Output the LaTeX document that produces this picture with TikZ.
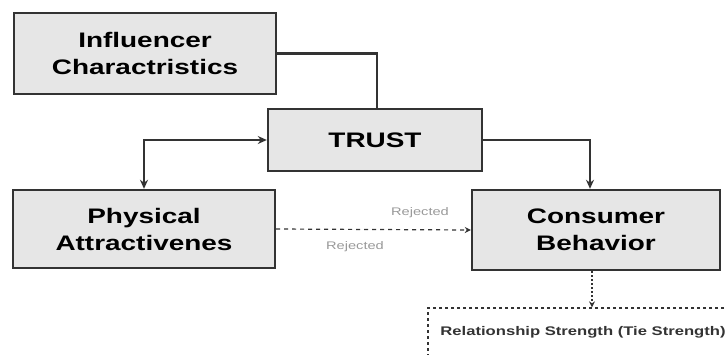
\documentclass[tikz,border=0pt]{standalone}
\usepackage{fontspec}
\setmainfont{Liberation Sans}[FakeStretch=1.33]
\usepackage{tikz}
\usetikzlibrary{arrows.meta}
\definecolor{boxgray}{HTML}{E6E6E6}
\definecolor{linegray}{HTML}{333333}
\tikzset{
    factor/.style={draw=linegray, fill=boxgray, line width=2.4pt, inner sep=0pt, align=center, font=\fontsize{21}{27}\selectfont\bfseries}, % 方框的样式
    link/.style={draw=linegray, line width=2.2pt, -{Stealth[length=9pt, width=8pt]}}, % 实线箭头
    rejected/.style={text=gray!80, font=\fontsize{11}{13}\selectfont} % 灰色小字
}

\begin{document}
\begin{tikzpicture}[x=1pt, y=-1pt]
            \useasboundingbox (0,0) rectangle (726,354);
            \clip (0,0) rectangle (726,354);

            \node[factor, minimum width=262pt, minimum height=81pt] (infl) at (145,53.5) {Influencer\\Charactristics};
            \node[factor, minimum width=214pt, minimum height=62pt] (trust) at (375,140) {TRUST};
            \node[factor, minimum width=262pt, minimum height=78pt] (phys) at (144,229) {Physical\\Attractivenes};
            \node[factor, minimum width=248pt, minimum height=80pt] (cons) at (596,230) {Consumer\\Behavior};
            \node[draw=linegray, line width=1.3pt, dash pattern=on 3pt off 3pt, minimum width=310pt, minimum height=48pt, inner sep=0pt, font=\fontsize{12.5}{15}\selectfont\bfseries, text=linegray] (tie) at (583,332) {Relationship Strength (Tie Strength)};

            \draw[link, -] (infl.east) -| ([xshift=2pt]trust.north);
            \draw[link, {Stealth[length=9pt, width=8pt]}-{Stealth[length=9pt, width=8pt]}] (trust.west) -| (phys.north);
            \draw[link] (trust.east) -| ([xshift=-6pt]cons.north);

            \draw[linegray, line width=1.2pt, dash pattern=on 4pt off 4pt, -{Stealth[length=6pt, width=6pt]}] (phys.east) -- (cons.west);
            \node[rejected] (rejA) at (420,213) {Rejected};
            \node[rejected] (rejB) at (355,247) {Rejected};

            \draw[linegray, line width=1.4pt, dash pattern=on 2pt off 2pt, -{Stealth[length=6pt, width=6pt]}] ([xshift=-4pt]cons.south) -- ([xshift=-4pt]cons.south |- tie.north);
        \end{tikzpicture}
\end{document}
